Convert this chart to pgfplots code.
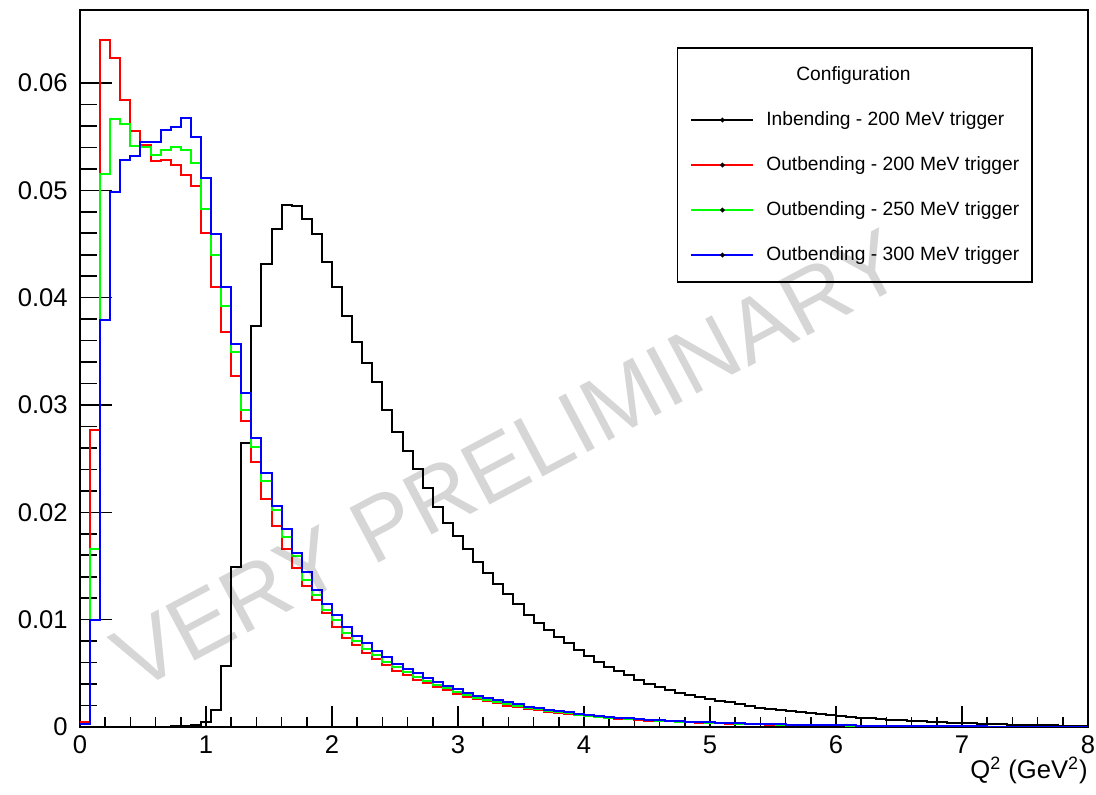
\documentclass[border=0pt]{standalone}
\usepackage{pgfplots}
\usepackage{pgfplotstable}
\pgfplotsset{compat=1.18}
\usepackage{fontspec}
\setmainfont{Liberation Sans}

\pgfplotstableread{
x     black    red      green    blue
0.00  0        0.0005   0.0003   0.0003
0.08  0        0.0277   0.0166   0.0100
0.16  0        0.0640   0.0515   0.0379
0.24  0        0.0623   0.0566   0.0498
0.32  0        0.0584   0.0562   0.0528
0.40  0        0.0555   0.0541   0.0532
0.48  0        0.0542   0.0540   0.0545
0.56  0        0.0527   0.0533   0.0545
0.64  0.00003  0.0528   0.0538   0.0556
0.72  0.00006  0.0524   0.0540   0.0559
0.80  0.00012  0.0514   0.0538   0.0567
0.88  0.0002   0.0504   0.0525   0.0550
0.96  0.0005   0.0460   0.0483   0.0511
1.04  0.0016   0.0410   0.0440   0.0459
1.12  0.0057   0.0368   0.0392   0.0410
1.20  0.0149   0.0327   0.0349   0.0357
1.28  0.0265   0.0285   0.0295   0.0311
1.36  0.0374   0.0247   0.0261   0.0269
1.44  0.0431   0.0212   0.0229   0.0237
1.52  0.0464   0.0187   0.0202   0.0206
1.60  0.0486   0.0166   0.0177   0.0184
1.68  0.0485   0.0148   0.0159   0.0162
1.76  0.0473   0.0131   0.0137   0.0144
1.84  0.0459   0.0118   0.0123   0.0128
1.92  0.0433   0.0106   0.0109   0.0115
2.00  0.0410   0.0093   0.0100   0.0104
2.08  0.0383   0.0083   0.0088   0.0093
2.16  0.0359   0.0076   0.0080   0.0085
2.24  0.0339   0.0069   0.0073   0.0078
2.32  0.0321   0.0063   0.0067   0.0071
2.40  0.0295   0.0058   0.0061   0.0065
2.48  0.0275   0.0052   0.0056   0.0059
2.56  0.0257   0.0048   0.0051   0.0054
2.64  0.0240   0.0044   0.0047   0.0050
2.72  0.0223   0.0041   0.0043   0.0046
2.80  0.0205   0.0037   0.0039   0.0042
2.88  0.0190   0.0034   0.0036   0.0038
2.96  0.0178   0.0031   0.0033   0.0035
3.04  0.0166   0.0028   0.0030   0.0032
3.12  0.0154   0.0026   0.0027   0.0029
3.20  0.0143   0.0024   0.0025   0.0027
3.28  0.0133   0.0022   0.0023   0.0025
3.36  0.0124   0.0020   0.0021   0.0023
3.44  0.0115   0.0019   0.0020   0.0021
3.52  0.0104   0.0017   0.0018   0.0019
3.60  0.0097   0.0016   0.0017   0.0018
3.68  0.0090   0.0014   0.0015   0.0016
3.76  0.0084   0.0013   0.0014   0.0015
3.84  0.0078   0.0012   0.0013   0.0014
3.92  0.0072   0.0011   0.0011   0.0012
4.00  0.0066   0.00098  0.0010   0.0011
4.08  0.0061   0.00090  0.00095  0.0010
4.16  0.0056   0.00084  0.00088  0.00094
4.24  0.0052   0.00077  0.00082  0.00087
4.32  0.0048   0.00071  0.00076  0.00080
4.40  0.0044   0.00066  0.00070  0.00074
4.48  0.0040   0.00060  0.00064  0.00068
4.56  0.0037   0.00056  0.00060  0.00063
4.64  0.0034   0.00052  0.00055  0.00058
4.72  0.0032   0.00048  0.00051  0.00054
4.80  0.0030   0.00045  0.00047  0.00050
4.88  0.0028   0.00041  0.00043  0.00046
4.96  0.0026   0.00037  0.00040  0.00042
5.04  0.0024   0.00035  0.00037  0.00039
5.12  0.0023   0.00032  0.00034  0.00036
5.20  0.0021   0.00029  0.00031  0.00033
5.28  0.0020   0.00027  0.00028  0.00030
5.36  0.0018   0.00025  0.00026  0.00028
5.44  0.0017   0.00023  0.00024  0.00026
5.52  0.0016   0.00021  0.00022  0.00024
5.60  0.0015   0.00020  0.00020  0.00022
5.68  0.0014   0.00018  0.00019  0.00020
5.76  0.0013   0.00017  0.00018  0.00019
5.84  0.0012   0.00016  0.00016  0.00017
5.92  0.0011   0.00015  0.00015  0.00016
6.00  0.00102  0.00014  0.00014  0.00015
6.08  0.00093  0.00013  0.00013  0.00014
6.16  0.00086  0.00012  0.00012  0.00013
6.24  0.00080  0.00011  0.00011  0.00012
6.32  0.00074  0.00010  0.00010  0.00011
6.40  0.00068  0.00009  0.00009  0.00010
6.48  0.00062  0.00008  0.00008  0.00009
6.56  0.00057  0.00008  0.00008  0.00008
6.64  0.00052  0.00007  0.00007  0.00008
6.72  0.00048  0.00007  0.00007  0.00007
6.80  0.00044  0.00006  0.00006  0.00007
6.88  0.00040  0.00006  0.00006  0.00006
6.96  0.00036  0.00005  0.00005  0.00006
7.04  0.00033  0.00005  0.00005  0.00005
7.12  0.00030  0.00004  0.00004  0.00005
7.20  0.00027  0.00004  0.00004  0.00004
7.28  0.00025  0.00004  0.00004  0.00004
7.36  0.00022  0.00003  0.00003  0.00004
7.44  0.00020  0.00003  0.00003  0.00003
7.52  0.00018  0.00003  0.00003  0.00003
7.60  0.00016  0.00003  0.00003  0.00003
7.68  0.00015  0.00002  0.00002  0.00003
7.76  0.00013  0.00002  0.00002  0.00002
7.84  0.00012  0.00002  0.00002  0.00002
7.92  0.00011  0.00002  0.00002  0.00002
8.00  0.00011  0.00002  0.00002  0.00002
}\histdata

\begin{document}
\begin{tikzpicture}
\useasboundingbox (-40pt,-34pt) rectangle (508pt,363.5pt);
\begin{axis}[
  at={(0pt,0pt)}, anchor=south west,
  scale only axis, width=504pt, height=358.5pt,
  xmin=0, xmax=8, ymin=0, ymax=0.0668,
  axis line style={line width=1pt},
  tick pos=left, tick align=inside,
  xtick={0,1,2,3,4,5,6,7,8},
  xticklabels={0,1,2,3,4,5,6,7,8},
  ytick={0,0.01,0.02,0.03,0.04,0.05,0.06},
  yticklabels={0,0.01,0.02,0.03,0.04,0.05,0.06},
  minor x tick num=4, minor y tick num=4,
  xtick style={line width=0.8pt, black, /pgfplots/major tick length=10.5pt, /pgfplots/minor tick length=5pt},
  ytick style={line width=0.8pt, black, /pgfplots/major tick length=16pt, /pgfplots/minor tick length=8.5pt},
  scaled y ticks=false,
  yticklabel style={font=\fontsize{12.8}{14}\selectfont, inner sep=0pt, xshift=-6pt},
  xticklabel style={font=\fontsize{12.8}{14}\selectfont, inner sep=0pt, yshift=-4pt},
  xlabel={Q\textsuperscript{2} (GeV\textsuperscript{2})},
  xlabel style={at={(rel axis cs:1,0)}, anchor=north east, inner sep=0pt, yshift=-15pt, font=\fontsize{12.8}{14}\selectfont},
  legend style={at={(rel axis cs:0.592,0.948)}, anchor=north west, draw=black, line width=0.8pt,
     font=\fontsize{9.6}{11}\selectfont, inner xsep=6.5pt, inner ysep=9pt, row sep=13.5pt, column sep=6pt,
     nodes={inner sep=0pt, text height=7.1pt, text depth=1.9pt}},
  legend cell align=left,
  legend image code/.code={\draw[#1, line width=0.9pt] (0pt,0pt) -- (31pt,0pt); \fill[black] (15.5pt,0pt) circle (0.6pt);},
  every axis plot/.append style={line width=1pt, mark=none, const plot mark left},
]
\coordinate (wm) at (axis cs:3.40,0.0249);
\addlegendimage{empty legend}
\addlegendentry{\hspace*{15pt}Configuration}
\addplot[black] table[x=x, y=black] {\histdata};
\addlegendentry{Inbending - 200 MeV trigger}
\addplot[red] table[x=x, y=red] {\histdata};
\addlegendentry{Outbending - 200 MeV trigger}
\addplot[green] table[x=x, y=green] {\histdata};
\addlegendentry{Outbending - 250 MeV trigger}
\addplot[blue] table[x=x, y=blue] {\histdata};
\addlegendentry{Outbending - 300 MeV trigger}
\end{axis}
\node[rotate=28, text=black, text opacity=0.16, font=\fontsize{45}{45}\selectfont, inner sep=0pt] at (wm) {VERY PRELIMINARY};
\end{tikzpicture}
\end{document}
